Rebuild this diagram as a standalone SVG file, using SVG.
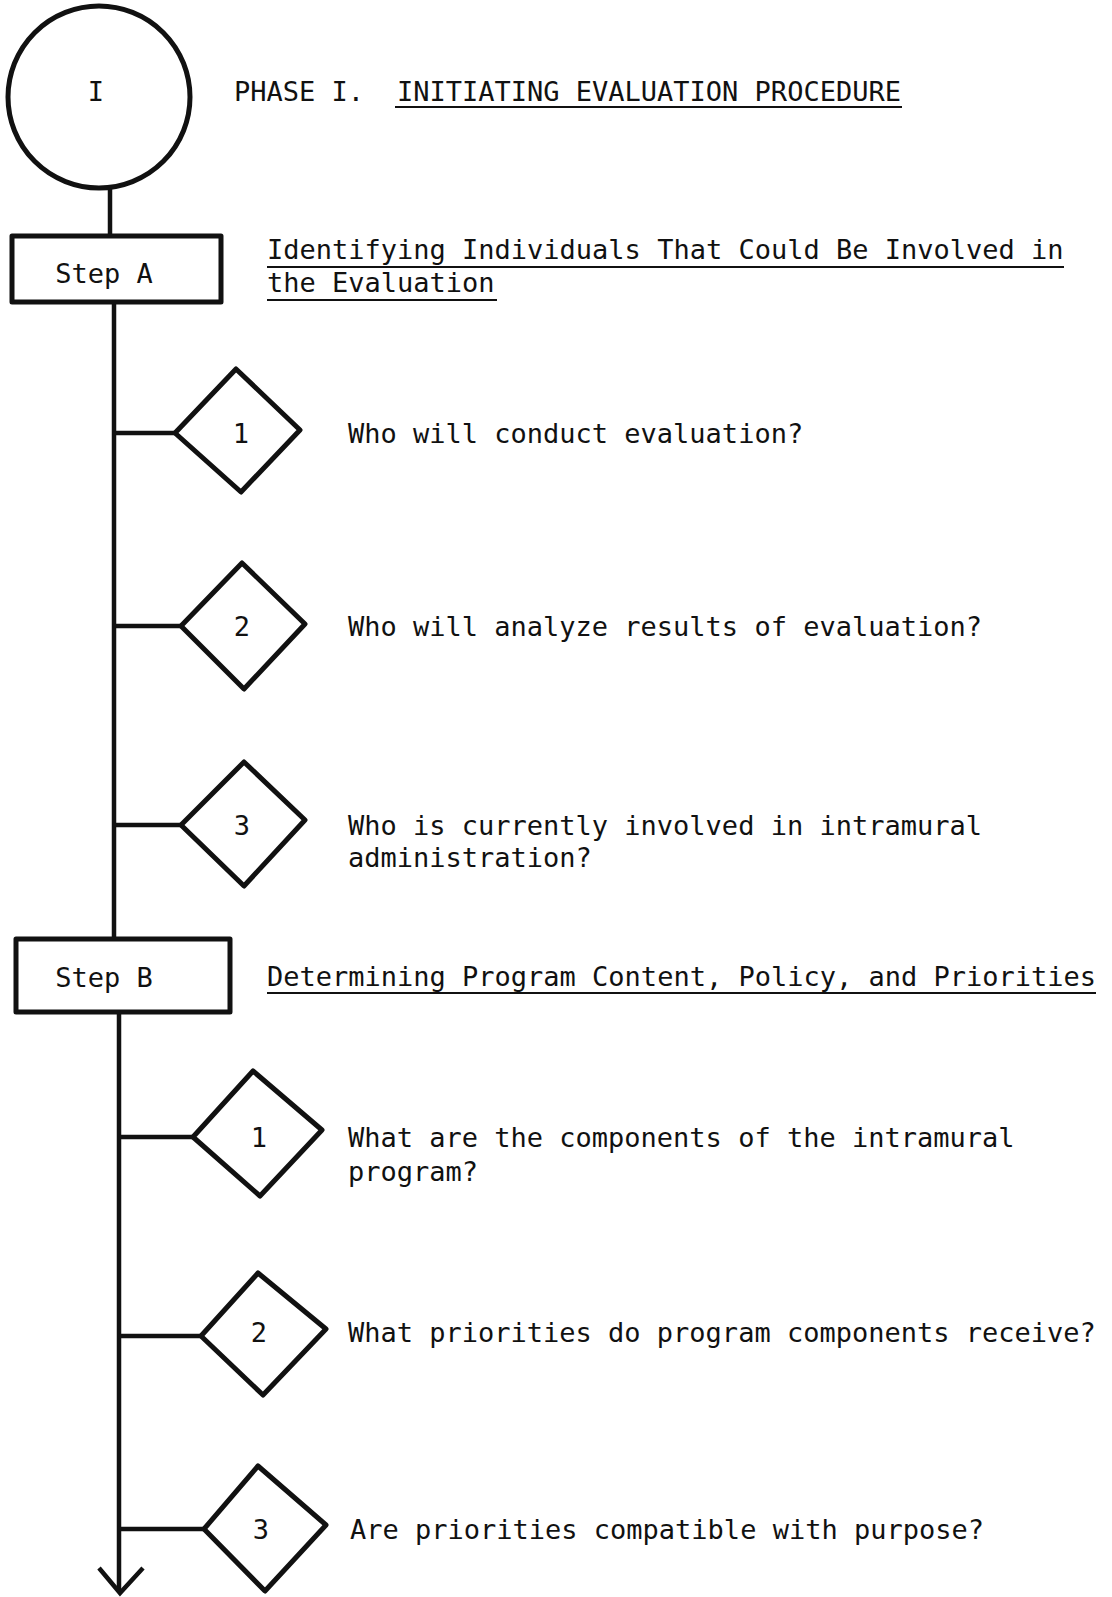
<svg xmlns="http://www.w3.org/2000/svg" width="1112" height="1597" viewBox="0 0 1112 1597">
<style>
  .shape { fill: #ffffff; stroke: #111111; stroke-width: 5; stroke-linejoin: round; }
  .conn { fill: none; stroke: #111111; stroke-width: 4.5; }
  .ul { fill: none; stroke: #111111; stroke-width: 2; }
  text { font-family: "DejaVu Sans Mono", "Liberation Mono", monospace; font-size: 27px; fill: #111111; }
  .mid { text-anchor: middle; }
</style>
<rect x="0" y="0" width="1112" height="1597" fill="#ffffff"/>

<g id="connectors">
  <line class="conn" x1="110" y1="189" x2="110" y2="236"/>
  <line class="conn" x1="114" y1="302" x2="114" y2="939"/>
  <line class="conn" x1="114" y1="433" x2="175" y2="433"/>
  <line class="conn" x1="114" y1="626" x2="181" y2="626"/>
  <line class="conn" x1="114" y1="825" x2="181" y2="825"/>
  <line class="conn" x1="119" y1="1012" x2="119" y2="1592"/>
  <polyline class="conn" points="99,1568 120,1593 143,1568"/>
  <line class="conn" x1="119" y1="1137" x2="193" y2="1137"/>
  <line class="conn" x1="119" y1="1336" x2="201" y2="1336"/>
  <line class="conn" x1="119" y1="1529" x2="204" y2="1529"/>
</g>

<g id="phase-I">
  <circle class="shape" cx="99" cy="97" r="91"/>
  <text class="mid" x="96" y="101">I</text>
  <text x="234" y="101">PHASE I.</text>
  <text x="397" y="101">INITIATING EVALUATION PROCEDURE</text>
  <line class="ul" x1="395" y1="107" x2="902" y2="107"/>
</g>

<g id="step-A">
  <rect class="shape" x="12" y="236" width="209" height="66"/>
  <text class="mid" x="104" y="283">Step A</text>
  <text x="267" y="259">Identifying Individuals That Could Be Involved in</text>
  <line class="ul" x1="267" y1="267" x2="1064" y2="267"/>
  <text x="267" y="292">the Evaluation</text>
  <line class="ul" x1="267" y1="300" x2="497" y2="300"/>
</g>

<g id="A1">
  <polygon class="shape" points="175,433 236,369 300,430 241,492"/>
  <text class="mid" x="241" y="443">1</text>
  <text x="348" y="443">Who will conduct evaluation?</text>
</g>

<g id="A2">
  <polygon class="shape" points="181,626 242,563 305,624 244,689"/>
  <text class="mid" x="242" y="636">2</text>
  <text x="348" y="636">Who will analyze results of evaluation?</text>
</g>

<g id="A3">
  <polygon class="shape" points="181,825 244,762 305,820 244,886"/>
  <text class="mid" x="242" y="835">3</text>
  <text x="348" y="835">Who is currently involved in intramural</text>
  <text x="348" y="867">administration?</text>
</g>

<g id="step-B">
  <rect class="shape" x="16" y="939" width="214" height="73"/>
  <text class="mid" x="104" y="987">Step B</text>
  <text x="267" y="986">Determining Program Content, Policy, and Priorities</text>
  <line class="ul" x1="267" y1="993" x2="1096" y2="993"/>
</g>

<g id="B1">
  <polygon class="shape" points="193,1137 253,1071 322,1130 260,1196"/>
  <text class="mid" x="259" y="1147">1</text>
  <text x="348" y="1147">What are the components of the intramural</text>
  <text x="348" y="1181">program?</text>
</g>

<g id="B2">
  <polygon class="shape" points="201,1336 258,1273 326,1329 263,1395"/>
  <text class="mid" x="259" y="1342">2</text>
  <text x="348" y="1342">What priorities do program components receive?</text>
</g>

<g id="B3">
  <polygon class="shape" points="204,1529 258,1466 326,1525 265,1591"/>
  <text class="mid" x="261" y="1539">3</text>
  <text x="350" y="1539">Are priorities compatible with purpose?</text>
</g>
</svg>
